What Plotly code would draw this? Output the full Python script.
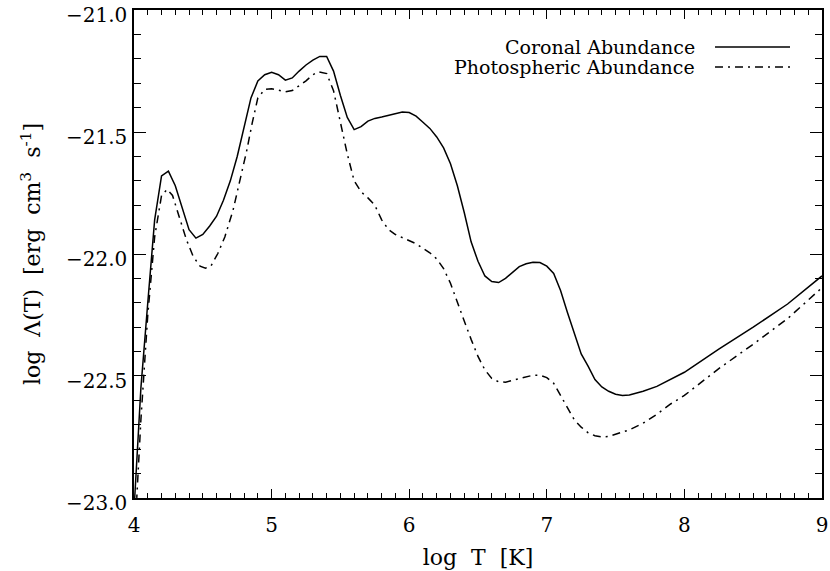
import plotly.graph_objects as go

# log T [K]
coronal_logT = [4.00, 4.05, 4.10, 4.15, 4.20, 4.25, 4.30, 4.35, 4.40, 4.45, 4.50, 4.55, 4.60,
                 4.65, 4.70, 4.75, 4.80, 4.85, 4.90, 4.95, 5.00, 5.05, 5.10, 5.15, 5.20, 5.25,
                 5.30, 5.35, 5.40, 5.45, 5.50, 5.55, 5.60, 5.65, 5.70, 5.75, 5.80, 5.85, 5.90,
                 5.95, 6.00, 6.05, 6.10, 6.15, 6.20, 6.25, 6.30, 6.35, 6.40, 6.45, 6.50, 6.55,
                 6.60, 6.65, 6.70, 6.75, 6.80, 6.85, 6.90, 6.95, 7.00, 7.05, 7.10, 7.15, 7.20,
                 7.25, 7.30, 7.35, 7.40, 7.45, 7.50, 7.55, 7.60, 7.65, 7.70, 7.80, 7.90, 8.00,
                 8.25, 8.50, 8.75, 9.00]
coronal_logL = [-23.05, -22.55, -22.20, -21.86, -21.68, -21.66, -21.72, -21.81, -21.90, -21.935,
                -21.92, -21.885, -21.845, -21.78, -21.70, -21.60, -21.48, -21.36, -21.29, -21.265,
                -21.255, -21.265, -21.287, -21.278, -21.25, -21.225, -21.205, -21.19, -21.19,
                -21.25, -21.35, -21.44, -21.49, -21.478, -21.455, -21.444, -21.438, -21.432,
                -21.425, -21.418, -21.42, -21.435, -21.46, -21.485, -21.52, -21.565, -21.63,
                -21.72, -21.83, -21.95, -22.03, -22.09, -22.113, -22.117, -22.10, -22.075,
                -22.052, -22.04, -22.034, -22.035, -22.05, -22.08, -22.15, -22.24, -22.33,
                -22.41, -22.46, -22.515, -22.545, -22.563, -22.575, -22.58, -22.578, -22.572,
                -22.563, -22.543, -22.513, -22.485, -22.39, -22.30, -22.205, -22.09]

photo_logT = [4.00, 4.02, 4.05, 4.10, 4.15, 4.20, 4.24, 4.28, 4.33, 4.38, 4.43, 4.48, 4.52,
              4.56, 4.61, 4.66, 4.72, 4.77, 4.82, 4.86, 4.90, 4.95, 5.00, 5.05, 5.10, 5.15,
              5.20, 5.25, 5.30, 5.34, 5.40, 5.45, 5.50, 5.55, 5.60, 5.65, 5.70, 5.75, 5.80,
              5.85, 5.90, 5.95, 6.00, 6.05, 6.10, 6.15, 6.20, 6.25, 6.30, 6.35, 6.40, 6.45,
              6.50, 6.55, 6.60, 6.65, 6.70, 6.75, 6.80, 6.85, 6.90, 6.95, 7.00, 7.05, 7.10,
              7.15, 7.20, 7.25, 7.30, 7.35, 7.40, 7.45, 7.50, 7.60, 7.70, 7.80, 7.90, 8.00,
              8.25, 8.50, 8.75, 9.00]
photo_logL = [-23.10, -23.00, -22.68, -22.25, -21.93, -21.76, -21.735, -21.76, -21.85, -21.94,
              -22.01, -22.05, -22.058, -22.048, -21.997, -21.93, -21.82, -21.70, -21.574,
              -21.46, -21.36, -21.325, -21.322, -21.328, -21.335, -21.33, -21.31, -21.29,
              -21.265, -21.253, -21.26, -21.33, -21.46, -21.59, -21.70, -21.745, -21.77,
              -21.80, -21.86, -21.90, -21.92, -21.932, -21.943, -21.958, -21.977, -21.995,
              -22.02, -22.06, -22.12, -22.20, -22.275, -22.35, -22.42, -22.475, -22.51,
              -22.524, -22.526, -22.518, -22.51, -22.503, -22.497, -22.497, -22.507, -22.53,
              -22.58, -22.632, -22.68, -22.71, -22.733, -22.745, -22.75, -22.748, -22.74,
              -22.721, -22.694, -22.657, -22.615, -22.58, -22.47, -22.37, -22.265, -22.138]

series_names = ["Coronal Abundance", "Photospheric Abundance"]
x_tickvals = [4, 5, 6, 7, 8, 9]
y_tickvals = [-23.0, -22.5, -22.0, -21.5, -21.0]

FONT = "DejaVu Serif"
DASHDOT = "8px,5px,2px,5px"

fig = go.Figure()
fig.add_trace(go.Scatter(x=coronal_logT, y=coronal_logL, mode="lines",
                         name=series_names[0], showlegend=False,
                         line=dict(color="black", width=1.5)))
fig.add_trace(go.Scatter(x=photo_logT, y=photo_logL, mode="lines",
                         name=series_names[1], showlegend=False,
                         line=dict(color="black", width=1.5, dash=DASHDOT)))

axis_common = dict(showgrid=False, zeroline=False, showline=True, linecolor="black",
                   linewidth=1.5, mirror="ticks", ticks="inside", tickcolor="black",
                   tickwidth=1.2, ticklabeloverflow="allow", automargin=False,
                   tickfont=dict(family=FONT, size=20, color="black"))

fig.update_xaxes(range=[3.9999, 9.0001], tickvals=x_tickvals, ticklen=9,
                 ticklabelstandoff=8,
                 minor=dict(dtick=0.1, tick0=4, ticks="inside", ticklen=5, tickcolor="black",
                            tickwidth=1.2),
                 title=dict(text="log  T  [K]", font=dict(family=FONT, size=22, color="black"),
                            standoff=14),
                 **axis_common)
fig.update_yaxes(range=[-23.0005, -20.9995], tickvals=y_tickvals, tickformat=".1f", ticklen=12,
                 ticklabelstandoff=1, ticklabelshift=5,
                 minor=dict(dtick=0.1, tick0=-23, ticks="inside", ticklen=7, tickcolor="black",
                            tickwidth=1.2),
                 title=dict(text="log  Λ(T)  [erg  cm<sup>3</sup>  s<sup>-1</sup>]",
                            font=dict(family=FONT, size=22, color="black"), standoff=19),
                 **axis_common)

# legend (text on the left, line sample on the right, as in the original)
legend_rows = [(0.9242, None), (0.8832, DASHDOT)]
for name, (yp, dash) in zip(series_names, legend_rows):
    fig.add_annotation(x=0.8183, y=yp, xref="paper", yref="paper", text=name,
                       showarrow=False, xanchor="right", yanchor="middle",
                       font=dict(family=FONT, size=19, color="black"))
    fig.add_shape(type="line", xref="paper", yref="paper", x0=0.8445, x1=0.9535,
                  y0=yp, y1=yp, line=dict(color="black", width=1.5, dash=dash))

fig.update_layout(width=830, height=571, autosize=False,
                  margin=dict(l=134, r=8, t=10, b=73),
                  paper_bgcolor="white", plot_bgcolor="white",
                  font=dict(family=FONT, color="black"))

fig.write_html("out.html", config={"responsive": False, "displayModeBar": False},
               post_script="document.body.style.margin='0px';")
